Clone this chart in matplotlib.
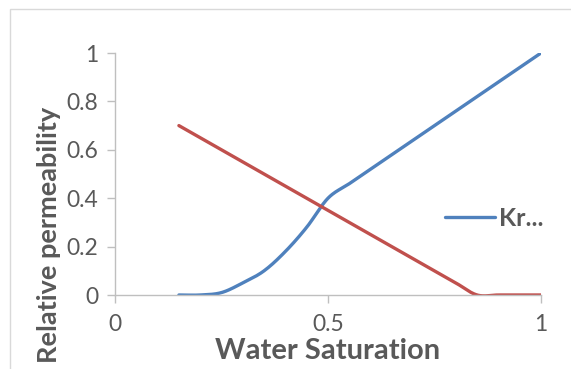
import matplotlib.pyplot as plt
import numpy as np
from matplotlib.patches import Rectangle

# water saturation and relative permeability curves
sw = [0.15, 0.2, 0.25, 0.3, 0.35, 0.4, 0.45, 0.5, 0.55, 0.6, 0.65, 0.7,
      0.75, 0.8, 0.85, 0.9, 0.95, 1.0]
krw = [0.0, 0.0, 0.01, 0.05, 0.1, 0.18, 0.28, 0.4, 0.46, 0.52, 0.58, 0.64,
       0.7, 0.76, 0.82, 0.88, 0.94, 1.0]
kro = [0.7, 0.65, 0.6, 0.55, 0.5, 0.45, 0.4, 0.35, 0.3, 0.25, 0.2, 0.15,
       0.1, 0.05, 0.0, 0.0, 0.0, 0.0]

x_ticks = [0, 0.5, 1]
x_tick_labels = ['0', '0.5', '1']
y_ticks = [0, 0.2, 0.4, 0.6, 0.8, 1.0]
y_tick_labels = ['0', '0.2', '0.4', '0.6', '0.8', '1']


def smooth(x, y, n=20):
    """Catmull-Rom spline through the points, like a smoothed line in a spreadsheet."""
    x = np.asarray(x, float)
    y = np.asarray(y, float)
    px = np.concatenate([[2 * x[0] - x[1]], x, [2 * x[-1] - x[-2]]])
    py = np.concatenate([[2 * y[0] - y[1]], y, [2 * y[-1] - y[-2]]])
    t = np.linspace(0, 1, n, endpoint=False)
    xs, ys = [], []
    for i in range(1, len(px) - 2):
        for p, out in ((px, xs), (py, ys)):
            p0, p1, p2, p3 = p[i - 1], p[i], p[i + 1], p[i + 2]
            out.extend(0.5 * (2 * p1 + (-p0 + p2) * t
                              + (2 * p0 - 5 * p1 + 4 * p2 - p3) * t ** 2
                              + (-p0 + 3 * p1 - 3 * p2 + p3) * t ** 3))
    xs.append(x[-1])
    ys.append(y[-1])
    return np.array(xs), np.array(ys)


grey = '#595959'
axis_grey = '#BFBFBF'
plt.rcParams['font.family'] = ['Lato', 'DejaVu Sans']

fig = plt.figure(figsize=(5.71, 3.69), dpi=100)
fig.patches.append(Rectangle((10 / 571, -0.1), 1.2, (369 - 9) / 369 + 0.1,
                             transform=fig.transFigure, fill=False,
                             edgecolor='#D9D9D9', linewidth=1.0))
ax = fig.add_axes([115 / 571, 1 - 295 / 369, 426 / 571, 242 / 369])

bx, by = smooth(sw, krw)
rx, ry = smooth(sw, kro)
ax.plot(bx, by, color='#4F81BD', lw=2.4, solid_capstyle='round', label='Kr...')
ax.plot(rx, ry, color='#C0504D', lw=2.4, solid_capstyle='round')

ax.set_xlim(0, 1)
ax.set_ylim(0, 1)
ax.set_xticks(x_ticks, x_tick_labels)
ax.set_yticks(y_ticks, y_tick_labels)
for s in ('top', 'right'):
    ax.spines[s].set_visible(False)
for s in ('left', 'bottom'):
    ax.spines[s].set_color(axis_grey)
    ax.spines[s].set_linewidth(1.0)
ax.tick_params(axis='both', color=axis_grey, length=6, width=1.0,
               labelcolor=grey, labelsize=16.5)
ax.tick_params(axis='x', pad=8)
ax.tick_params(axis='y', pad=6)

ax.set_xlabel('Water Saturation', fontsize=21, fontweight='bold', color=grey,
              va='center')
ax.xaxis.set_label_coords(0.498, -0.23)
ax.set_ylabel('Relative permeability', fontsize=19.5, fontweight='bold',
              color=grey, va='center')
ax.yaxis.set_label_coords(-0.155, 0.25)

leg = ax.legend(loc='center left', bbox_to_anchor=(0.745, 0.318), frameon=False,
                handlelength=2.0, handletextpad=0.15, borderpad=0,
                prop={'weight': 'bold', 'size': 18})
for t in leg.get_texts():
    t.set_color(grey)

fig.savefig('out.png', dpi=100)
